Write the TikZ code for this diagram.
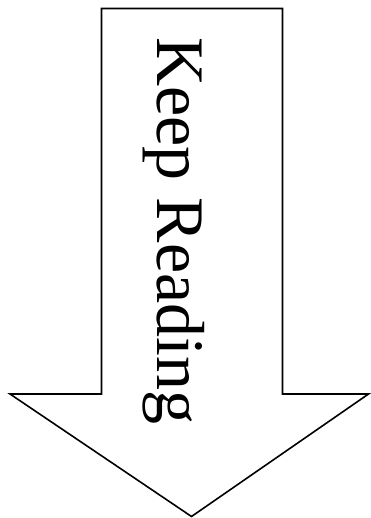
\documentclass[tikz,border=0pt]{standalone}
\usepackage{fontspec}
\setmainfont{Liberation Serif}
\begin{document}
\begin{tikzpicture}[x=1pt,y=-1pt,
  arrowshape/.style={draw=black,line width=1.6pt,line join=miter,fill=white},
  label/.style={rotate=-90,anchor=base west,inner sep=0pt,font=\fontsize{68}{68}\selectfont}]
\useasboundingbox (0,0) rectangle (370,518);
\draw[arrowshape] (101.5,8.5) -- (282.5,8.5) -- (282.5,394) -- (368.5,394) -- (191.5,516.5) -- (10,394) -- (101.5,394) -- cycle;
\node[label] (txt) at (157,37) {Keep Reading};
\end{tikzpicture}
\end{document}
